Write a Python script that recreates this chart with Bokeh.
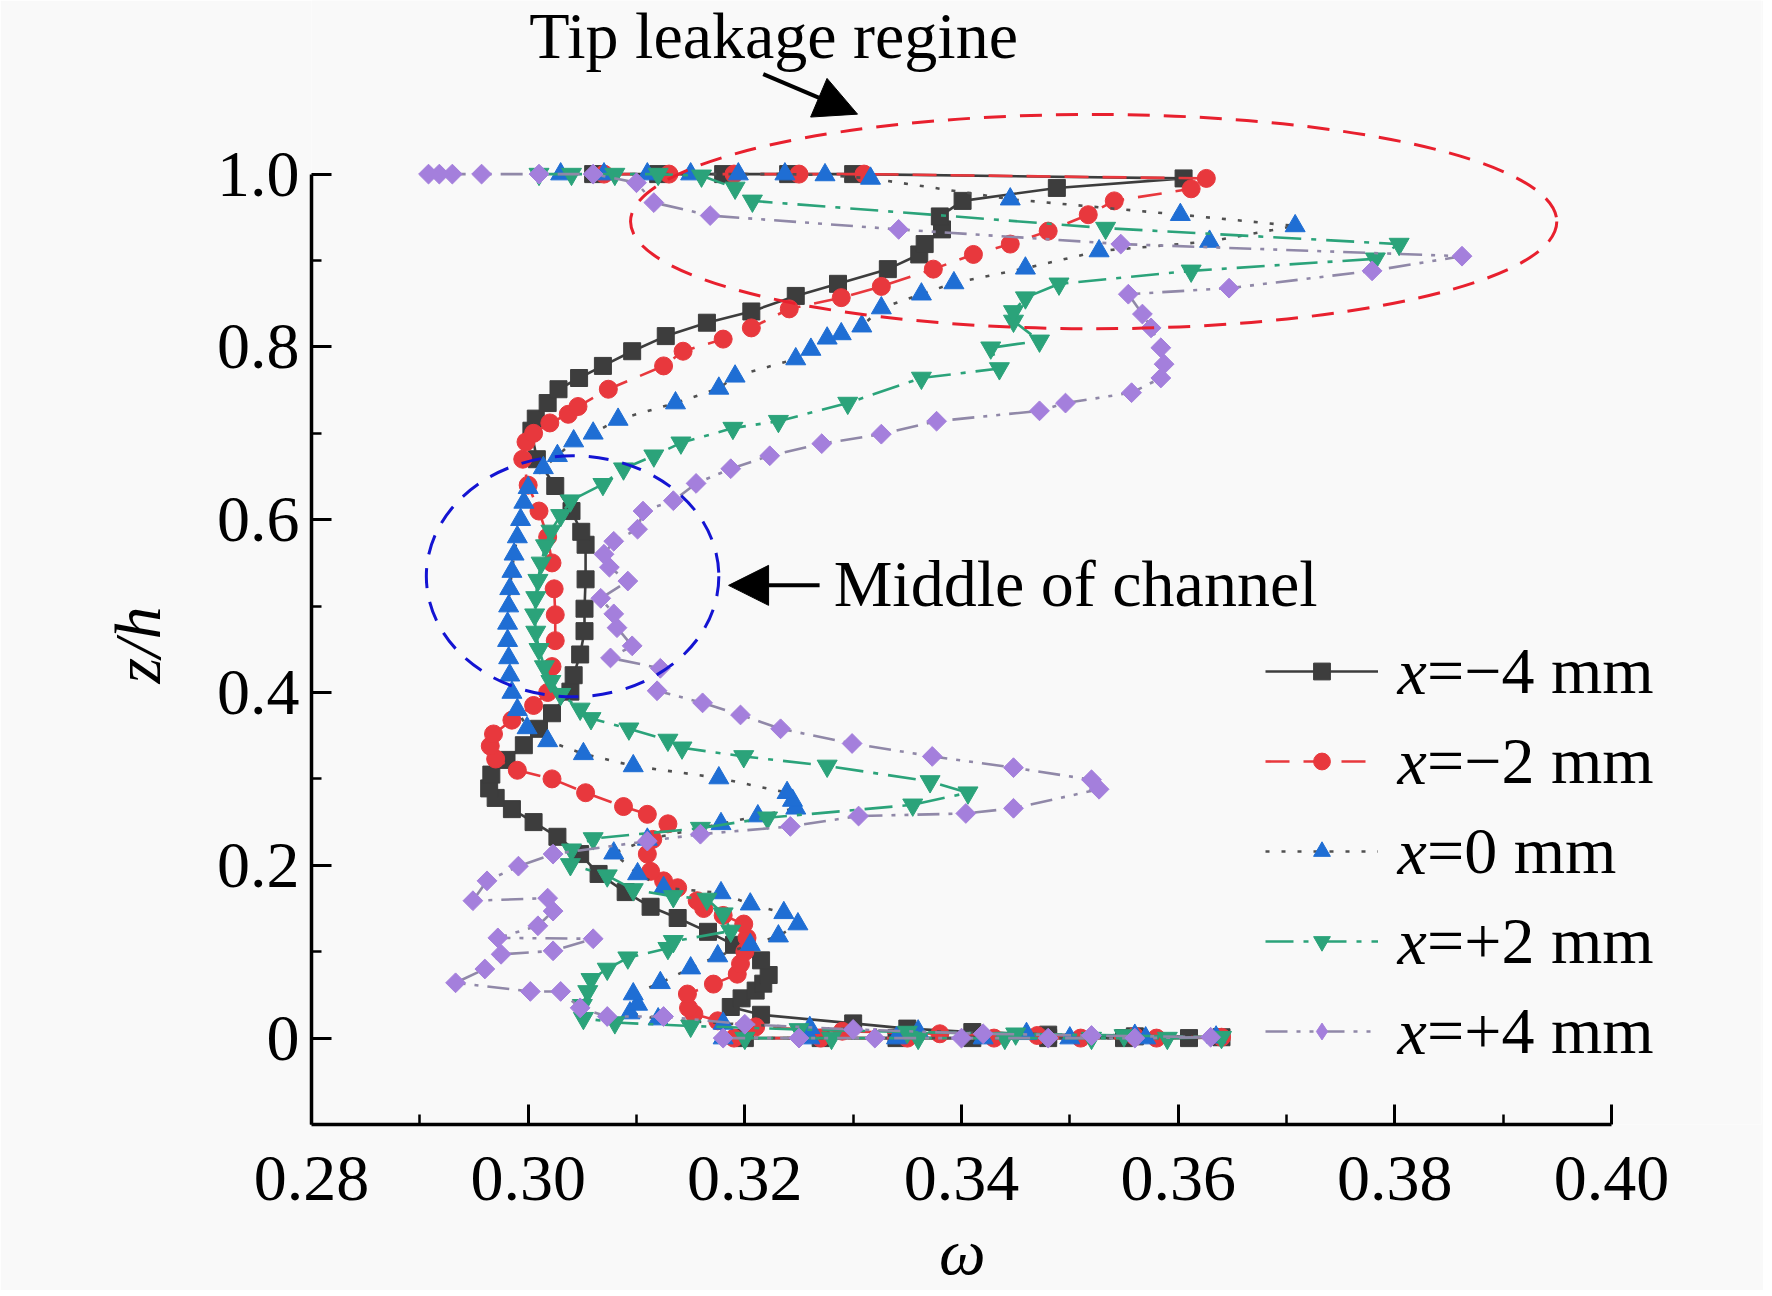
from bokeh.plotting import figure
from bokeh.models import (Range1d, FixedTicker, CustomJSTickFormatter, Legend, LegendItem,
                          Label, Arrow, NormalHead, ColumnDataSource)
from bokeh.embed import file_html
from bokeh.resources import INLINE
import math

# ---------------- data (omega, z/h) ----------------
legend_vals = ["=\u22124 mm", "=\u22122 mm", "=0 mm", "=+2 mm", "=+4 mm"]

pts_m4 = [(0.3200,0.000),(0.3270,0.000),(0.3340,0.000),(0.3410,0.000),(0.3480,0.000),(0.3550,0.000),(0.3610,0.000),(0.3640,0.001),
          (0.3560,0.002),(0.3480,0.004),(0.3410,0.007),(0.3350,0.011),(0.3300,0.017),(0.3215,0.027),(0.3187,0.036),(0.3197,0.046),
          (0.3210,0.055),(0.3217,0.063),(0.3222,0.073),(0.3215,0.090),(0.3190,0.108),(0.3166,0.123),(0.3138,0.139),(0.3113,0.152),
          (0.3090,0.169),(0.3065,0.190),(0.3048,0.213),(0.3027,0.233),(0.3005,0.250),(0.2985,0.265),(0.2970,0.278),(0.2964,0.289),
          (0.2966,0.305),(0.2980,0.322),(0.2996,0.339),(0.3010,0.358),(0.3022,0.376),(0.3039,0.401),(0.3042,0.420),(0.3048,0.444),
          (0.3052,0.471),(0.3052,0.497),(0.3053,0.531),(0.3053,0.571),(0.3049,0.586),(0.3040,0.610),(0.3025,0.639),(0.3008,0.670),
          (0.3003,0.703),(0.3007,0.717),(0.3018,0.735),(0.3028,0.751),(0.3047,0.764),(0.3069,0.778),(0.3096,0.795),(0.3127,0.8125),
          (0.3165,0.828),(0.3206,0.841),(0.3247,0.859),(0.3286,0.873),(0.3332,0.890),(0.3361,0.907),(0.3366,0.919),(0.3382,0.936),
          (0.3380,0.951),(0.3401,0.969),(0.3488,0.984),(0.3605,0.995),(0.3300,1.000),(0.3240,1.000),(0.3180,1.000),(0.3120,1.000),
          (0.3060,1.000)]

pts_m2 = [(0.3190,0.000),(0.3270,0.000),(0.3350,0.000),(0.3430,0.000),(0.3510,0.000),(0.3580,0.000),(0.3640,0.001),
          (0.3560,0.002),(0.3470,0.003),(0.3380,0.005),(0.3290,0.008),(0.3210,0.013),(0.3175,0.020),(0.3153,0.028),(0.3148,0.035),
          (0.3147,0.051),(0.3171,0.0625),(0.3193,0.074),(0.3196,0.086),(0.3200,0.100),(0.3202,0.116),(0.3199,0.132),(0.3180,0.142),
          (0.3162,0.150),(0.3156,0.159),(0.3138,0.174),(0.3125,0.182),(0.3113,0.193),(0.3110,0.213),(0.3115,0.230),(0.3129,0.248),
          (0.3110,0.259),(0.3088,0.268),(0.3053,0.284),(0.3022,0.300),(0.2990,0.310),(0.2970,0.323),(0.2965,0.338),(0.2968,0.352),
          (0.2985,0.368),(0.3005,0.385),(0.3018,0.400),(0.3022,0.430),(0.3025,0.460),(0.3025,0.490),(0.3024,0.520),(0.3022,0.550),
          (0.3018,0.580),(0.3010,0.610),(0.3000,0.640),(0.2995,0.670),(0.2998,0.690),(0.3005,0.700),(0.3020,0.712),(0.3037,0.722),
          (0.3046,0.731),(0.3074,0.751),(0.3125,0.778),(0.3143,0.795),(0.3180,0.809),(0.3206,0.822),(0.3241,0.844),(0.3289,0.857),
          (0.3326,0.870),(0.3374,0.890),(0.3411,0.907),(0.3445,0.919),(0.3480,0.934),(0.3517,0.953),(0.3541,0.969),(0.3612,0.983),
          (0.3626,0.995),(0.3310,1.000),(0.3250,1.000),(0.3190,1.000),(0.3130,1.000),(0.3070,1.000)]

pts_0 = [(0.3180,0.000),(0.3260,0.000),(0.3340,0.000),(0.3420,0.000),(0.3500,0.000),(0.3570,0.000),(0.3635,0.001),
         (0.3560,0.003),(0.3460,0.005),(0.3360,0.008),(0.3260,0.012),(0.3180,0.017),(0.3120,0.022),(0.3094,0.029),(0.3101,0.039),
         (0.3097,0.051),(0.3122,0.064),(0.3150,0.081),(0.3175,0.095),(0.3205,0.108),(0.3231,0.118),(0.3249,0.132),(0.3236,0.145),
         (0.3205,0.155),(0.3178,0.168),(0.3125,0.174),(0.3101,0.190),(0.3079,0.214),(0.3110,0.230),(0.3178,0.248),(0.3212,0.257),
         (0.3247,0.266),(0.3244,0.275),(0.3239,0.284),(0.3176,0.301),(0.3097,0.315),(0.3051,0.329),(0.3018,0.344),(0.2999,0.359),
         (0.2990,0.380),(0.2985,0.400),(0.2983,0.420),(0.2982,0.440),(0.2981,0.460),(0.2981,0.480),(0.2982,0.500),(0.2983,0.520),
         (0.2985,0.540),(0.2987,0.560),(0.2990,0.580),(0.2993,0.600),(0.2996,0.620),(0.3000,0.637),(0.3014,0.660),(0.3027,0.674),
         (0.3042,0.691),(0.3060,0.700),(0.3083,0.716),(0.3136,0.735),(0.3176,0.752),(0.3191,0.766),(0.3247,0.786),(0.3261,0.797),
         (0.3276,0.810),(0.3289,0.815),(0.3308,0.824),(0.3326,0.845),(0.3363,0.861),(0.3393,0.874),(0.3459,0.891),(0.3527,0.911),
         (0.3629,0.922),(0.3708,0.940),(0.3602,0.953),(0.3445,0.971),(0.3316,0.995),(0.3274,0.999),(0.3237,1.000),(0.3194,1.000),
         (0.3150,1.000),(0.3110,1.000),(0.3070,1.000),(0.3030,1.000)]

pts_p2 = [(0.3200,0.000),(0.3280,0.000),(0.3360,0.000),(0.3440,0.000),(0.3520,0.000),(0.3590,0.000),(0.3640,0.001),
          (0.3550,0.003),(0.3450,0.005),(0.3350,0.007),(0.3250,0.010),(0.3150,0.014),(0.3080,0.018),(0.3051,0.023),(0.3050,0.038),
          (0.3055,0.054),(0.3058,0.068),(0.3073,0.080),(0.3092,0.093),(0.3129,0.104),(0.3134,0.112),(0.3187,0.124),(0.3180,0.144),
          (0.3165,0.161),(0.3134,0.164),(0.3097,0.172),(0.3073,0.188),(0.3039,0.201),(0.3040,0.218),(0.3060,0.231),(0.3159,0.243),
          (0.3221,0.255),(0.3355,0.270),(0.3406,0.284),(0.3371,0.297),(0.3276,0.315),(0.3199,0.326),(0.3142,0.336),(0.3129,0.345),
          (0.3093,0.358),(0.3058,0.370),(0.3048,0.381),(0.3030,0.398),(0.3021,0.413),(0.3015,0.430),(0.3010,0.450),(0.3007,0.470),
          (0.3006,0.490),(0.3007,0.510),(0.3009,0.530),(0.3012,0.550),(0.3016,0.570),(0.3021,0.587),(0.3030,0.605),(0.3039,0.622),
          (0.3069,0.641),(0.3088,0.659),(0.3116,0.674),(0.3141,0.689),(0.3189,0.706),(0.3231,0.714),(0.3295,0.735),(0.3363,0.764),
          (0.3435,0.775),(0.3427,0.799),(0.3472,0.807),(0.3448,0.830),(0.3448,0.841),(0.3459,0.857),(0.3490,0.873),(0.3612,0.888),
          (0.3782,0.902),(0.3804,0.919),(0.3533,0.9375),(0.3207,0.969),(0.3191,0.984),(0.3160,0.998),(0.3120,1.000),(0.3080,1.000),
          (0.3040,1.000),(0.3010,1.000)]

pts_p4 = [(0.3180,0.000),(0.3250,0.000),(0.3320,0.000),(0.3400,0.000),(0.3480,0.000),(0.3560,0.000),(0.3630,0.001),
          (0.3520,0.003),(0.3420,0.005),(0.3300,0.010),(0.3200,0.016),(0.3125,0.025),(0.3073,0.025),(0.3048,0.035),(0.3030,0.054),
          (0.3002,0.054),(0.2933,0.064),(0.2960,0.080),(0.2975,0.097),(0.3023,0.101),(0.3060,0.115),(0.2972,0.116),(0.3009,0.130),
          (0.3023,0.147),(0.3018,0.162),(0.2949,0.159),(0.2962,0.182),(0.2991,0.199),(0.3023,0.213),(0.3110,0.228),(0.3159,0.236),
          (0.3242,0.245),(0.3305,0.257),(0.3404,0.260),(0.3448,0.266),(0.3527,0.288),(0.3520,0.299),(0.3448,0.313),(0.3373,0.326),
          (0.3299,0.341),(0.3233,0.358),(0.3196,0.374),(0.3161,0.388),(0.3119,0.402),(0.3122,0.428),(0.3076,0.440),(0.3096,0.454),
          (0.3082,0.475),(0.3079,0.491),(0.3067,0.509),(0.3092,0.529),(0.3075,0.545),(0.3070,0.560),(0.3079,0.575),(0.3101,0.589),
          (0.3106,0.610),(0.3134,0.622),(0.3155,0.642),(0.3187,0.659),(0.3223,0.674),(0.3271,0.688),(0.3326,0.699),(0.3377,0.714),
          (0.3472,0.726),(0.3496,0.735),(0.3557,0.747),(0.3584,0.764),(0.3587,0.780),(0.3584,0.799),(0.3575,0.822),(0.3567,0.838),
          (0.3554,0.861),(0.3647,0.868),(0.3779,0.888),(0.3862,0.905),(0.3547,0.919),(0.3342,0.936),(0.3168,0.952),(0.3116,0.967),
          (0.3100,0.990),(0.3060,1.000),(0.3010,1.000),(0.2957,1.000),(0.2930,1.000),(0.2918,1.000),(0.2908,1.000)]

x_ticks = [0.28, 0.30, 0.32, 0.34, 0.36, 0.38, 0.40]
x_minor = [0.29, 0.31, 0.33, 0.35, 0.37, 0.39]
y_ticks = [0, 0.2, 0.4, 0.6, 0.8, 1.0]
y_minor = [0.1, 0.3, 0.5, 0.7, 0.9]

# annotation geometry (data units)
tip_ellipse = dict(x=0.3522, y=0.945, w=0.0855, h=0.248)
mid_ellipse = dict(x=0.3041, y=0.5345, w=0.0270, h=0.279)

# ---------------- styling / layout ----------------
BG = "#f9f9f9"
FONT = "Liberation Serif"
FS = "66px"
PX_X = 1300 / 0.12
PX_Y = 864.0
FW, FH = 1450, 1124
x_end = 0.28 + FW / PX_X
y_end = -0.1 + FH / PX_Y
NB = "\u00a0"

p = figure(frame_width=FW, frame_height=FH,
           x_range=Range1d(0.28, x_end), y_range=Range1d(-0.1, y_end),
           output_backend="svg", toolbar_location=None,
           min_border_left=311, min_border_right=2, min_border_top=0, min_border_bottom=164,
           background_fill_color=BG, border_fill_color=BG, outline_line_color=None)
p.grid.visible = False

styles = [
    dict(pts=pts_m4, color="#3d3d3d", lcolor="#3d3d3d", dash="solid", marker="square", size=17, angle=0),
    dict(pts=pts_m2, color="#e8383d", lcolor="#e8383d", dash="24 14", marker="circle", size=18, angle=0),
    dict(pts=pts_0, color="#1f6ed4", lcolor="#505050", dash="4 12", marker="triangle", size=20, angle=0),
    dict(pts=pts_p2, color="#2ba37a", lcolor="#2ba37a", dash="28 10 5 10", marker="inverted_triangle", size=20, angle=0),
    dict(pts=pts_p4, color="#a47fdc", lcolor="#9088a8", dash="22 9 4 9 4 9", marker="square", size=14, angle=math.pi / 4),
]

items = []
for lab, st in zip(legend_vals, styles):
    xs = [a for a, b in st["pts"]]
    zs = [b for a, b in st["pts"]]
    src = ColumnDataSource(dict(x=xs, z=zs))
    lr = p.line("x", "z", source=src, line_color=st["lcolor"], line_width=2.6, line_dash=st["dash"])
    leg_marker = None
    if st["angle"]:
        # the legend ignores marker rotation: a small diamond under the last point supplies the legend glyph
        leg_src = ColumnDataSource(dict(x=xs[-1:], z=zs[-1:]))
        leg_marker = p.scatter("x", "z", source=leg_src, marker="diamond", size=12,
                               fill_color=st["color"], line_color=st["color"], line_width=1)
    sr = p.scatter("x", "z", source=src, marker=st["marker"], size=st["size"], angle=st["angle"],
                   fill_color=st["color"], line_color=st["color"], line_width=1)
    items.append(LegendItem(label=lab, renderers=[lr, leg_marker if leg_marker is not None else sr]))

# ellipses
p.ellipse(x=[tip_ellipse["x"]], y=[tip_ellipse["y"]], width=[tip_ellipse["w"]], height=[tip_ellipse["h"]],
          fill_color=None, line_color="#e8202e", line_width=3, line_dash="22 14")
p.ellipse(x=[mid_ellipse["x"]], y=[mid_ellipse["y"]], width=[mid_ellipse["w"]], height=[mid_ellipse["h"]],
          fill_color=None, line_color="#1414d2", line_width=3, line_dash="20 14")

# arrows
p.add_layout(Arrow(end=NormalHead(size=42, fill_color="black", line_color="black"),
                   x_start=0.3217, y_start=1.1157, x_end=0.3304, y_end=1.0694,
                   line_width=4, line_color="black"))
p.add_layout(Arrow(end=NormalHead(size=40, fill_color="black", line_color="black"),
                   x_start=0.3269, y_start=0.524, x_end=0.3185, y_end=0.524,
                   line_width=4, line_color="black"))

# annotation texts
p.add_layout(Label(x=0.3001, y=1.160, text="Tip leakage regine", text_font=FONT, text_font_size=FS,
                   text_align="left", text_baseline="alphabetic", text_color="black"))
p.add_layout(Label(x=0.3282, y=0.526, text="Middle of channel", text_font=FONT, text_font_size=FS,
                   text_align="left", text_baseline="alphabetic", text_color="black"))

# axes
for ax in (p.xaxis[0], p.yaxis[0]):
    ax.axis_line_width = 3.5
    ax.axis_line_color = "black"
    ax.major_tick_line_width = 3
    ax.minor_tick_line_width = 2.5
    ax.major_tick_line_color = "black"
    ax.minor_tick_line_color = "black"
    ax.major_tick_in = 20
    ax.major_tick_out = 0
    ax.minor_tick_in = 10
    ax.minor_tick_out = 0
    ax.major_label_text_font = FONT
    ax.major_label_text_font_size = FS
    ax.major_label_text_color = "black"
    ax.axis_label_text_font = FONT
    ax.axis_label_text_font_size = FS
    ax.axis_label_text_font_style = "italic"
    ax.axis_label_text_color = "black"

# axis titles: trailing no-break spaces centre the visible text on the axis bounds
p.xaxis.axis_label = "\u03c9" + NB * 9
p.yaxis.axis_label = "z/h" + NB * 10
p.xaxis.axis_label_standoff = 12
p.yaxis.axis_label_standoff = 40
p.xaxis.bounds = (0.28, 0.40)
p.yaxis.bounds = (-0.1, 1.0)
p.xaxis.ticker = FixedTicker(ticks=x_ticks, minor_ticks=x_minor)
p.yaxis.ticker = FixedTicker(ticks=y_ticks, minor_ticks=y_minor)
p.xaxis.formatter = CustomJSTickFormatter(code="return tick.toFixed(2);")
p.yaxis.formatter = CustomJSTickFormatter(code="return Math.abs(tick) < 1e-9 ? '0' : tick.toFixed(1);")
p.xaxis.major_label_standoff = 32
p.yaxis.major_label_standoff = 12

# legend (italic "x" drawn as separate labels in front of each entry)
LEG_X, LEG_Y, ITEM_H, SPACING, GLYPH_W, STANDOFF = 954, 55, 76, 14, 113, 19
X_W = 30
legend = Legend(items=items, location=(LEG_X, LEG_Y), orientation="vertical",
                glyph_width=GLYPH_W, glyph_height=42, label_height=ITEM_H, label_standoff=STANDOFF + X_W,
                spacing=SPACING, padding=0, margin=0, label_text_font=FONT, label_text_font_size=FS,
                label_text_color="black", border_line_alpha=0, background_fill_alpha=0)
p.add_layout(legend)
n = len(items)
for k in range(n):
    cy = LEG_Y + (n - 1 - k) * (ITEM_H + SPACING) + ITEM_H / 2
    p.add_layout(Label(x=LEG_X + GLYPH_W + STANDOFF, y=cy, x_units="screen", y_units="screen",
                       text="x", text_font=FONT, text_font_size=FS, text_font_style="italic",
                       text_align="left", text_baseline="middle", text_color="black"))

open("out.html", "w").write(file_html(p, INLINE))
